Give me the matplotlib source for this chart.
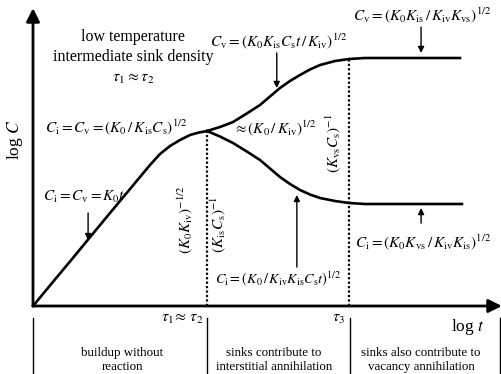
import matplotlib
matplotlib.use("Agg")
import matplotlib.pyplot as plt

plt.rcParams['font.family'] = 'serif'
plt.rcParams['font.serif'] = ['Liberation Serif', 'DejaVu Serif']
plt.rcParams['mathtext.fontset'] = 'stix'

# schematic curves (log t, log C in arbitrary units)
build_t = [0.0, 0.407, 0.835, 1.242, 1.649, 2.077, 2.291, 2.505, 2.719,
           2.934, 3.148, 3.362, 3.555, 3.726]
build_c = [0.0, 0.774, 1.58, 2.357, 3.131, 3.939, 4.343, 4.747, 5.118,
           5.387, 5.589, 5.758, 5.842, 5.892]

cv_t = [3.726, 4.004, 4.283, 4.561, 4.861, 5.075, 5.289, 5.503, 5.717,
        5.931, 6.146, 6.467, 6.767, 7.109, 9.143]
cv_c = [5.892, 6.027, 6.195, 6.465, 6.768, 7.054, 7.340, 7.576, 7.778,
        7.963, 8.114, 8.249, 8.316, 8.350, 8.350]

ci_t = [3.726, 4.004, 4.283, 4.561, 4.861, 5.075, 5.289, 5.503, 5.717,
        5.931, 6.146, 6.467, 6.767, 7.109, 9.186]
ci_c = [5.892, 5.707, 5.488, 5.219, 4.916, 4.630, 4.343, 4.108, 3.906,
        3.754, 3.636, 3.535, 3.468, 3.434, 3.434]

tau2 = 3.726
tau3 = 6.767

regions = ["buildup without\nreaction",
           "sinks contribute to\ninterstitial annihilation",
           "sinks also contribute to\nvacancy annihilation"]
region_x = [1.91, 5.16, 8.31]

fig = plt.figure(figsize=(5.02, 3.74), dpi=100)
ax = fig.add_axes([0, 0, 1, 1])
ax.set_xlim(-33 / 46.7, 469 / 46.7)
ax.set_ylim(-68 / 29.7, 306 / 29.7)
ax.axis('off')

# axes with arrow heads
ax.annotate('', xy=(0, 10.03), xytext=(0, 0),
            arrowprops=dict(arrowstyle='-|>', lw=2, color='k',
                            mutation_scale=20, shrinkA=0, shrinkB=0))
ax.annotate('', xy=(10.04, 0), xytext=(0, 0),
            arrowprops=dict(arrowstyle='-|>', lw=2, color='k',
                            mutation_scale=20, shrinkA=0, shrinkB=0))

ax.plot(build_t, build_c, '-k', lw=1.9, solid_joinstyle='round')
ax.plot(cv_t, cv_c, '-k', lw=1.9, solid_joinstyle='round')
ax.plot(ci_t, ci_c, '-k', lw=1.9, solid_joinstyle='round')

ax.plot([tau2, tau2], [0, build_c[-1]], color='k', ls=(0, (1, 1)), lw=1.6)
ax.plot([tau3, tau3], [0, cv_c[12]], color='k', ls=(0, (1, 1)), lw=1.6)

# region separators below the time axis
for xs in [0, tau2, tau3 + 0.02, 10.0]:
    ax.plot([xs, xs], [-0.42, -2.3], color='k', lw=1)
for xc, lab in zip(region_x, regions):
    ax.text(xc, -1.82, lab, ha='center', va='center', fontsize=9.4,
            linespacing=1.3)

def arrow(x, y0, y1):
    ax.annotate('', xy=(x, y1), xytext=(x, y0),
                arrowprops=dict(arrowstyle='-|>', lw=1, color='k',
                                mutation_scale=9, shrinkA=0, shrinkB=0))

fs = 11
ax.text(2.14, 9.06, "low temperature", ha='center', va='center',
        fontsize=11.5)
ax.text(2.14, 8.38, "intermediate sink density", ha='center', va='center',
        fontsize=11.5)
ax.text(2.14, 7.68, r"$\tau_1 \approx \tau_2$", ha='center', va='center',
        fontsize=11.5)

ax.text(5.25, 8.93, r"$C_{\rm v} = (K_0K_{\rm is}C_{\rm s}t\,/\,K_{\rm iv})^{1/2}$",
        ha='center', va='center', fontsize=fs)
arrow(5.22, 8.52, 7.34)
ax.text(8.33, 9.80, r"$C_{\rm v} = (K_0K_{\rm is}\,/\,K_{\rm iv}K_{\rm vs})^{1/2}$",
        ha='center', va='center', fontsize=fs)
arrow(8.31, 9.39, 8.52)

ax.text(0.257, 6.03, r"$C_{\rm i} = C_{\rm v} = (K_0\,/\,K_{\rm is}C_{\rm s})^{1/2}$",
        ha='left', va='center', fontsize=fs)
ax.text(4.28, 5.99, r"$\approx (K_0\,/\,K_{\rm iv})^{1/2}$",
        ha='left', va='center', fontsize=fs)
ax.text(0.214, 3.67, r"$C_{\rm i} = C_{\rm v} = K_0t$",
        ha='left', va='center', fontsize=fs)
arrow(1.18, 3.13, 2.22)

ax.text(3.25, 2.90, r"$(K_0K_{\rm iv})^{-1/2}$", rotation=90,
        ha='center', va='center', fontsize=fs)
ax.text(3.96, 2.76, r"$(K_{\rm is}C_{\rm s})^{-1}$", rotation=90,
        ha='center', va='center', fontsize=fs)
ax.text(6.42, 5.49, r"$(K_{\rm vs}C_{\rm s})^{-1}$", rotation=90,
        ha='center', va='center', fontsize=fs)

ax.text(5.24, 0.94, r"$C_{\rm i} = (K_0\,/\,K_{\rm iv}K_{\rm is}C_{\rm s}t)^{1/2}$",
        ha='center', va='center', fontsize=10.3)
arrow(5.65, 1.31, 3.74)
ax.text(8.35, 2.15, r"$C_{\rm i} = (K_0K_{\rm vs}\,/\,K_{\rm iv}K_{\rm is})^{1/2}$",
        ha='center', va='center', fontsize=fs)
arrow(8.31, 2.79, 3.30)

ax.text(3.64, -0.40, r"$\tau_1\!\approx\,\tau_2$", ha='right', va='center',
        fontsize=11.5)
ax.text(6.68, -0.40, r"$\tau_3$", ha='right', va='center', fontsize=11.5)
ax.text(9.68, -0.71, r"log $t$", ha='right', va='center', fontsize=12.5)
ax.text(-0.385, 5.59, r"log $C$", rotation=90, ha='center', va='center',
        fontsize=12.5)

fig.savefig('out.png', dpi=100)
